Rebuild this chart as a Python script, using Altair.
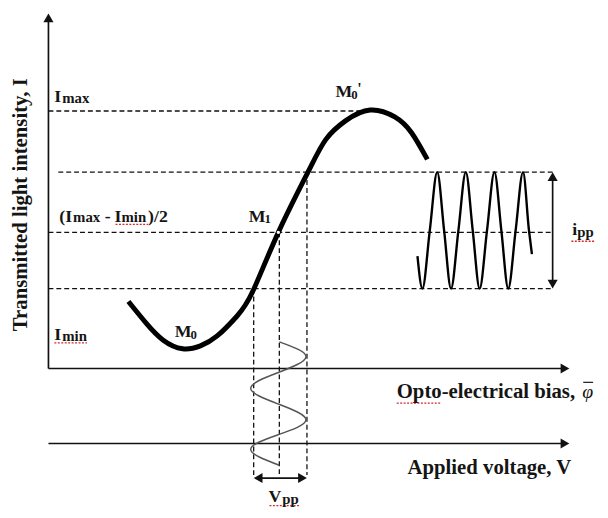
import altair as alt
import pandas as pd

FONT = "Liberation Serif"

# ---- curves (image pixel coordinates) ----
curve_x = [130, 148, 165, 185, 203, 220, 240, 256, 282, 312, 330, 350, 375, 400, 417, 433]
curve_y = [302, 324, 341, 350, 347, 337, 317, 292, 232, 171, 138, 119, 108, 115, 131, 158]

ripple_x = [423, 428, 435.5, 443, 450, 457, 464.5, 472, 479, 486, 493.5, 501, 508, 515, 522.5, 530, 536, 539]
ripple_y = [256, 289, 230, 171, 230, 289, 230, 171, 230, 289, 230, 171, 230, 289, 230, 171, 230, 254]

drive_x = [283, 310, 282, 254, 282, 310, 282, 254, 283]
drive_y = [343, 358, 374, 390, 406, 422, 437, 452, 468]

# ---- solid axes ----
axis_x1 = [49, 49, 49]
axis_y1 = [370, 370, 446]
axis_x2 = [49, 571, 571]
axis_y2 = [16, 370, 446]

# ---- dashed guide lines ----
guide_x1 = [49, 59, 49, 49, 257, 283, 311]
guide_y1 = [109, 171, 232, 289, 289, 232, 171]
guide_x2 = [372, 560, 560, 560, 257, 283, 311]
guide_y2 = [109, 171, 232, 289, 478, 478, 478]

# ---- double arrows (i_pp, V_pp) ----
dbl_x1 = [560, 262]
dbl_y1 = [176, 481]
dbl_x2 = [560, 306]
dbl_y2 = [284, 481]

# ---- arrow heads ----
head_x = [49, 572.5, 572.5, 560, 560, 261.5, 306.5]
head_y = [14.5, 370, 446, 175.5, 284.5, 481, 481]
head_shape = ["triangle-up", "triangle-right", "triangle-right", "triangle-up",
              "triangle-down", "triangle-left", "triangle-right"]

# ---- bold labels (text, baseline-left anchor) ----
label_text = ["I", "max",
              "(I", "max", "-", "I", "min", ")/2",
              "I", "min",
              "M", "0",
              "M", "1",
              "M", "0", "'",
              "i", "pp",
              "V", "pp",
              "Opto-electrical bias,",
              "Applied voltage, V"]
label_x = [55, 63,
           60, 74, 106, 116, 123, 150,
           55, 63,
           177, 193,
           252, 268,
           340, 356, 362,
           580, 585,
           272, 286,
           402,
           413]
label_y = [100, 101,
           221, 222, 221, 221, 222, 221,
           341, 342,
           338, 340,
           221, 223,
           95, 97, 92,
           235, 237,
           505, 507,
           400,
           477]
label_size = [18, 15,
              18, 15, 18, 18, 15, 18,
              18, 15,
              18, 13,
              18, 13,
              18, 13, 16,
              18, 15,
              18, 15,
              21,
              21]

ylabel_text = ["Transmitted light intensity, I"]
ylabel_x = [27]
ylabel_y = [204]

phi_text = ["φ"]
phi_x = [590]
phi_y = [400]

# spell-check underlines seen in the source picture
sq_x1 = [117, 55, 402, 579, 273]
sq_x2 = [150, 88, 447, 602, 303]
sq_y = [224, 344, 405, 241, 509]

xs = alt.Scale(domain=[8, 608], nice=False, zero=False)
ys = alt.Scale(domain=[8, 510], nice=False, zero=False, reverse=True)


def X(f):
    return alt.X(f, type="quantitative", scale=xs, axis=None)


def Y(f):
    return alt.Y(f, type="quantitative", scale=ys, axis=None)


axes_df = pd.DataFrame({"x": axis_x1, "y": axis_y1, "x2": axis_x2, "y2": axis_y2})
guide_df = pd.DataFrame({"x": guide_x1, "y": guide_y1, "x2": guide_x2, "y2": guide_y2})
dbl_df = pd.DataFrame({"x": dbl_x1, "y": dbl_y1, "x2": dbl_x2, "y2": dbl_y2})
head_df = pd.DataFrame({"x": head_x, "y": head_y, "shape": head_shape})
curve_df = pd.DataFrame({"x": curve_x, "y": curve_y})
ripple_df = pd.DataFrame({"x": ripple_x, "y": ripple_y})
drive_df = pd.DataFrame({"x": drive_x, "y": drive_y, "i": list(range(len(drive_x)))})
label_df = pd.DataFrame({"t": label_text, "x": label_x, "y": label_y, "s": label_size})
ylabel_df = pd.DataFrame({"t": ylabel_text, "x": ylabel_x, "y": ylabel_y})
phi_df = pd.DataFrame({"t": phi_text, "x": phi_x, "y": phi_y})
bar_df = pd.DataFrame({"x": [phi_x[0] + 1], "x2": [phi_x[0] + 11], "y": [384]})
sq_df = pd.DataFrame({"x": sq_x1, "x2": sq_x2, "y": sq_y})
dot_df = pd.DataFrame({"x": [282], "y": [232]})

ink = "#111111"

axes = alt.Chart(axes_df).mark_rule(color=ink, strokeWidth=1.7).encode(
    x=X("x"), y=Y("y"), x2="x2", y2="y2")

guides = alt.Chart(guide_df).mark_rule(color=ink, strokeWidth=1.3, strokeDash=[5, 3]).encode(
    x=X("x"), y=Y("y"), x2="x2", y2="y2")

dbl = alt.Chart(dbl_df).mark_rule(color=ink, strokeWidth=1.7).encode(
    x=X("x"), y=Y("y"), x2="x2", y2="y2")

heads = alt.Chart(head_df).mark_point(filled=True, color=ink, size=105, opacity=1).encode(
    x=X("x"), y=Y("y"), shape=alt.Shape("shape:N", scale=None))

curve = alt.Chart(curve_df).mark_line(color="#000000", strokeWidth=5, interpolate="natural",
                                      strokeCap="butt").encode(x=X("x"), y=Y("y"))

dot = alt.Chart(dot_df).mark_point(filled=True, color="white", size=12, opacity=1).encode(
    x=X("x"), y=Y("y"))

ripple = alt.Chart(ripple_df).mark_line(color="#000000", strokeWidth=2.4,
                                        interpolate="monotone").encode(x=X("x"), y=Y("y"))

drive = alt.Chart(drive_df).mark_line(color="#555555", strokeWidth=1.5,
                                      interpolate="natural").encode(
    x=X("x"), y=Y("y"), order=alt.Order("i:Q"))

labels = alt.Chart(label_df).mark_text(font=FONT, fontWeight="bold", align="left",
                                       baseline="alphabetic", color="#151515").encode(
    x=X("x"), y=Y("y"), text="t:N", size=alt.Size("s:Q", scale=None))

ylabel = alt.Chart(ylabel_df).mark_text(font=FONT, fontWeight="bold", fontSize=21, angle=270,
                                        align="center", baseline="alphabetic",
                                        color="#151515").encode(
    x=X("x"), y=Y("y"), text="t:N")

phi = alt.Chart(phi_df).mark_text(font=FONT, fontStyle="italic", fontSize=20, align="left",
                                  baseline="alphabetic", color="#151515").encode(
    x=X("x"), y=Y("y"), text="t:N")

bar = alt.Chart(bar_df).mark_rule(color="#151515", strokeWidth=1.2).encode(
    x=X("x"), x2="x2", y=Y("y"))

squig = alt.Chart(sq_df).mark_rule(color="#d42a2a", strokeWidth=1.3, strokeDash=[2, 1.5]).encode(
    x=X("x"), x2="x2", y=Y("y"))

chart = alt.layer(
    guides, axes, dbl, heads, drive, ripple, curve, dot, squig, labels, ylabel, phi, bar
).properties(
    width=600, height=502, padding=0, autosize="none", background="white"
).configure_view(stroke=None)

chart.save("out.html", embed_options={"renderer": "svg", "actions": False})
